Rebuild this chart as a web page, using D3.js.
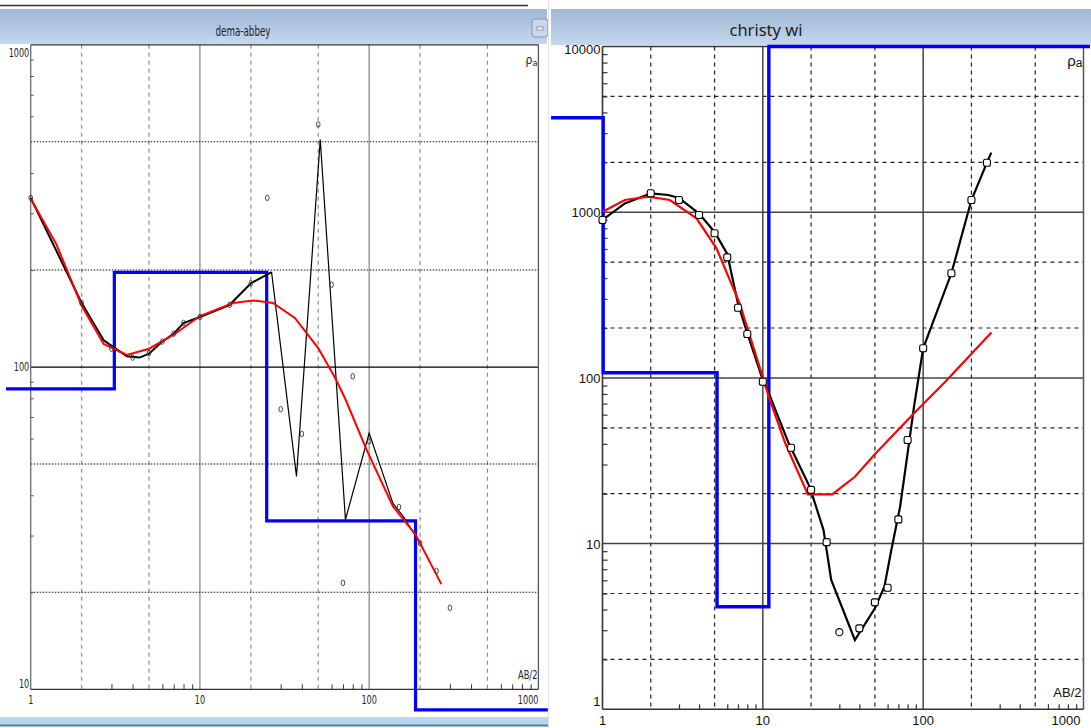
<!DOCTYPE html>
<html><head><meta charset="utf-8">
<script src="https://cdn.jsdelivr.net/npm/d3@7"></script>
<style>body{margin:0;background:#fff;overflow:hidden}svg{display:block}</style>
</head><body>
<svg id="c" width="1091" height="728"></svg>
<script>
// ---------------- DATA ----------------
// Left panel: dema-abbey
const leftTitle = "dema-abbey";
const leftObsAB  = [1,2,3,4,5,6,7,8,10,15,20,25,30,40,50,60,70,80,100,150,200,250,300];
const leftObsRho = [335,158,114,107,110.5,120,127,137,143,156,182,335,74,62,566,180,21.4,93.6,58.8,36.8,28.4,23.3,17.9];
const leftFieldAB  = [1,2,2.7,3.7,4.4,5,6,7,8,10,15,20,26.5];
const leftFieldRho = [335,158,121,108,107,110,120,127,137,143,156,182,197];
const leftZigAB  = [26.5,37.2,51.4,72.4,100,138,159,200];
const leftZigRho = [197,45.8,508,33.6,62.4,37.8,34.4,28.4];
const leftCalcAB  = [1,1.42,2,2.7,3.7,5,7,10,15.7,20.6,27,36.4,50,63,72,96.5,138,188,267];
const leftCalcRho = [333,240,155,118,109,114,126,144,158,161,158,142,114.5,92.5,80,55.4,37,30.2,21.2];
const leftLayerRho    = [85.6,196.8,33.3,8.63];
const leftLayerBounds = [0.715,3.12,24.8,188,1137];   // start, interfaces..., end
const leftXTicks = [1,10,100,1000];
const leftYTicks = [10,100,1000];

// Right panel: christy wi
const rightTitle = "christy wi";
const rightObsAB  = [1,2,3,4,5,6,7,8,10,15,20,25,40,50,60,70,80,100,150,200,250];
const rightObsRho = [897,1300,1185,962,746,534,265,184,94.8,37.9,21.1,10.2,3.08,4.42,5.42,14.0,42.2,151,428,1185,1990];
const rightSkipAB  = [30];
const rightSkipRho = [2.92];
const rightFieldAB  = [1,1.38,2,2.57,3,4,5,6,7,8,10,10.7,14.5,19.6,23.9,26.7,37.5,50,57.3,63.3,71.8,79.4,87.7,100,150,200,250,266];
const rightFieldRho = [900,1130,1300,1270,1220,980,760,560,280,186,97,84.5,40.3,22,12.1,6.03,2.62,4.07,5.5,9.15,16.7,33.4,67,151,428,1185,1990,2290];
const rightCalcAB  = [1,1.38,1.93,2.63,3.86,5.14,7.17,8.08,11,13.8,19.1,27.1,37.5,50.6,87.7,137.4,266.5];
const rightCalcRho = [1007,1185,1241,1185,918,605,282,194.5,75,40.3,19.8,19.8,25.3,35.1,61.1,94.8,188];
const rightLayerRho    = [3718,107.5,4.16,10000];
const rightLayerBounds = [0.478,1.01,5.18,10.9,1097];
const rightXTicks = [1,10,100,1000];
const rightYTicks = [1,10,100,1000,10000];

// ---------------- DRAW ----------------
const svg = d3.select("#c");
const defs = svg.append("defs");
const grad = defs.append("linearGradient").attr("id","tb").attr("x1",0).attr("y1",0).attr("x2",0).attr("y2",1);
grad.append("stop").attr("offset","0%").attr("stop-color","#9fb8d5");
grad.append("stop").attr("offset","100%").attr("stop-color","#c4d7ed");
const NARROW = "'Liberation Sans Narrow','Arial Narrow','DejaVu Sans Condensed',sans-serif";

function narrow(sel, factor){
  sel.each(function(){
    const w = this.getComputedTextLength();
    d3.select(this).attr("textLength", w*factor).attr("lengthAdjust","spacingAndGlyphs");
  });
}
function pairs(a,b){ return a.map((v,i)=>[v,b[i]]); }
function steps(bounds, rho){
  const p=[];
  rho.forEach((r,i)=>{ p.push([bounds[i],r]); p.push([bounds[i+1],r]); });
  return p;
}
function minorTicks(lo, hi, skip){
  const t=[];
  for(let d=lo; d<hi; d*=10) for(let k=2;k<=9;k++){ if(!skip.includes(k)) t.push(k*d); }
  return t;
}

// ---- chrome ----
svg.append("rect").attr("x",0).attr("y",0).attr("width",1091).attr("height",728).attr("fill","#fff");
svg.append("line").attr("x1",0).attr("x2",528).attr("y1",5.5).attr("y2",5.5).attr("stroke","#333").attr("stroke-width",1.5);
svg.append("rect").attr("x",0).attr("y",9).attr("width",547).attr("height",35).attr("fill","url(#tb)");
svg.append("rect").attr("x",551).attr("y",9).attr("width",540).attr("height",36).attr("fill","url(#tb)");
svg.append("rect").attr("x",532).attr("y",19).attr("width",16).attr("height",18).attr("rx",3)
  .attr("fill","#c9d7e7").attr("stroke","#8697ab");
svg.append("rect").attr("x",537).attr("y",27).attr("width",6).attr("height",3).attr("fill","#fff").attr("stroke","#667").attr("stroke-width",0.6);
svg.append("rect").attr("x",0).attr("y",717).attr("width",548).attr("height",8).attr("fill","#bcd4ee");
svg.append("rect").attr("x",0).attr("y",724.5).attr("width",548).attr("height",2).attr("fill","#2f8ea6");
svg.append("line").attr("x1",548.5).attr("x2",548.5).attr("y1",0).attr("y2",728).attr("stroke","#e4e4e4");

svg.append("text").attr("x",243).attr("y",36).attr("text-anchor","middle")
  .attr("font-family",NARROW).attr("font-size",13.5).attr("fill","#222").text(leftTitle)
  .call(s=>{ const w=s.node().getComputedTextLength(); if(w>56) s.attr("textLength",55).attr("lengthAdjust","spacingAndGlyphs"); });
svg.append("text").attr("x",766).attr("y",36).attr("text-anchor","middle")
  .attr("font-family","'Noto Sans','Open Sans',sans-serif").attr("font-size",16.5).attr("fill","#222").text(rightTitle);

// ================= LEFT PANEL =================
{
  const x = d3.scaleLog().domain([1,1000]).range([30.7,538.4]);
  const y = d3.scaleLog().domain([10,1000]).range([689.3,44.8]);
  const g = svg.append("g");
  const [x0,x1] = x.range(), [y1,y0] = y.range();
  g.selectAll(".vd").data([2,5,20,50,200,500]).join("line")
    .attr("x1",d=>x(d)).attr("x2",d=>x(d)).attr("y1",y0).attr("y2",y1)
    .attr("stroke","#8a8a8a").attr("stroke-width",1.2).attr("stroke-dasharray","4,4");
  g.selectAll(".vs").data([10,100]).join("line")
    .attr("x1",d=>x(d)).attr("x2",d=>x(d)).attr("y1",y0).attr("y2",y1)
    .attr("stroke","#8c8c8c").attr("stroke-width",1.3);
  g.selectAll(".hd").data([20,50,200,500]).join("line")
    .attr("x1",x0).attr("x2",x1).attr("y1",d=>y(d)).attr("y2",d=>y(d))
    .attr("stroke","#111").attr("stroke-width",1.1).attr("stroke-dasharray","1.5,1.5");
  g.selectAll(".hs").data([100]).join("line")
    .attr("x1",x0).attr("x2",x1).attr("y1",d=>y(d)).attr("y2",d=>y(d))
    .attr("stroke","#000").attr("stroke-width",1.2);
  g.append("line").attr("x1",x0).attr("x2",x0).attr("y1",y0).attr("y2",y1).attr("stroke","#6d6d6d").attr("stroke-width",1.3);
  g.append("line").attr("x1",x1).attr("x2",x1).attr("y1",y0).attr("y2",y1).attr("stroke","#555").attr("stroke-width",1.3);
  g.append("line").attr("x1",x0).attr("x2",x1).attr("y1",y0).attr("y2",y0).attr("stroke","#333").attr("stroke-width",1.2);
  g.append("line").attr("x1",x0).attr("x2",x1).attr("y1",y1).attr("y2",y1).attr("stroke","#333").attr("stroke-width",1.3);
  const ax = g.append("g").attr("transform",`translate(0,${y1})`)
    .call(d3.axisTop(x).tickValues(minorTicks(1,1000,[2,5])).tickSize(5).tickFormat(""));
  ax.select(".domain").remove(); ax.selectAll("line").attr("stroke","#333");
  const ay = g.append("g").attr("transform",`translate(${x0},0)`)
    .call(d3.axisRight(y).tickValues(minorTicks(10,1000,[5])).tickSize(3).tickFormat(""));
  ay.select(".domain").remove(); ay.selectAll("line").attr("stroke","#555");
  const lab = g.append("g").attr("font-family",NARROW).attr("font-size",11.5).attr("fill","#222");
  lab.selectAll(".yl").data(leftYTicks).join("text")
    .attr("x",x0-1.5).attr("y",d=> d===1000 ? y(d)+12 : d===10 ? y(d)-1 : y(d)+4)
    .attr("text-anchor","end").text(d=>d).call(narrow,0.78);
  lab.selectAll(".xl").data(leftXTicks).join("text")
    .attr("x",d=> d===1000 ? x1 : x(d)).attr("y",704)
    .attr("text-anchor",d=> d===1000 ? "end" : "middle").text(d=>d).call(narrow,0.78);
  lab.append("text").attr("x",x1-1).attr("y",679).attr("text-anchor","end").text("AB/2").call(narrow,0.8);
  const rl = lab.append("text").attr("x",x1-1).attr("y",64).attr("text-anchor","end");
  rl.append("tspan").attr("font-size",12).text("ρ");
  rl.append("tspan").attr("font-size",9).attr("dy",2).text("a");

  const line = d3.line().x(d=>x(d[0])).y(d=>y(d[1]));
  g.append("path").attr("d",line(steps(leftLayerBounds,leftLayerRho)))
    .attr("fill","none").attr("stroke","#0000ff").attr("stroke-width",3.2);
  g.append("path").attr("d",line(pairs(leftFieldAB,leftFieldRho)))
    .attr("fill","none").attr("stroke","#000").attr("stroke-width",2);
  g.append("path").attr("d",line(pairs(leftZigAB,leftZigRho)))
    .attr("fill","none").attr("stroke","#000").attr("stroke-width",1.2);
  g.append("path").attr("d",line(pairs(leftCalcAB,leftCalcRho)))
    .attr("fill","none").attr("stroke","#ff0000").attr("stroke-width",2);
  g.selectAll(".pt").data(pairs(leftObsAB,leftObsRho)).join("ellipse")
    .attr("cx",d=>x(d[0])).attr("cy",d=>y(d[1])).attr("rx",1.8).attr("ry",2.8)
    .attr("fill","none").attr("stroke","#333").attr("stroke-width",0.9);
}

// ================= RIGHT PANEL =================
{
  const x = d3.scaleLog().domain([1,1000]).range([602.5,1083.5]);
  const y = d3.scaleLog().domain([1,10000]).range([709.3,46.5]);
  const g = svg.append("g");
  const [x0,x1] = x.range(), [y1,y0] = y.range();
  g.selectAll(".vd").data([2,5,20,50,200,500]).join("line")
    .attr("x1",d=>x(d)).attr("x2",d=>x(d)).attr("y1",y0).attr("y2",y1)
    .attr("stroke","#222").attr("stroke-width",1.2).attr("stroke-dasharray","4,4");
  g.selectAll(".hd").data([2,5,20,50,200,500,2000,5000]).join("line")
    .attr("x1",x0).attr("x2",x1).attr("y1",d=>y(d)).attr("y2",d=>y(d))
    .attr("stroke","#222").attr("stroke-width",1.2).attr("stroke-dasharray","4,4");
  g.selectAll(".vs").data([10,100]).join("line")
    .attr("x1",d=>x(d)).attr("x2",d=>x(d)).attr("y1",y0).attr("y2",y1)
    .attr("stroke","#444").attr("stroke-width",1.5);
  g.selectAll(".hs").data([10,100,1000]).join("line")
    .attr("x1",x0).attr("x2",x1).attr("y1",d=>y(d)).attr("y2",d=>y(d))
    .attr("stroke","#444").attr("stroke-width",1.5);
  g.append("line").attr("x1",x0).attr("x2",x0).attr("y1",y0).attr("y2",y1).attr("stroke","#333").attr("stroke-width",1.6);
  g.append("line").attr("x1",x1).attr("x2",x1).attr("y1",y0).attr("y2",y1).attr("stroke","#555").attr("stroke-width",1.5);
  g.append("line").attr("x1",x0).attr("x2",x1).attr("y1",y0).attr("y2",y0).attr("stroke","#333").attr("stroke-width",1.3);
  g.append("line").attr("x1",x0).attr("x2",x1).attr("y1",y1).attr("y2",y1).attr("stroke","#333").attr("stroke-width",1.6);
  const ax = g.append("g").attr("transform",`translate(0,${y1})`)
    .call(d3.axisTop(x).tickValues(minorTicks(1,1000,[2,5])).tickSize(5).tickFormat(""));
  ax.select(".domain").remove(); ax.selectAll("line").attr("stroke","#333").attr("stroke-width",1.2);
  const ay = g.append("g").attr("transform",`translate(${x0},0)`)
    .call(d3.axisRight(y).tickValues(minorTicks(1,10000,[])).tickSize(5).tickFormat(""));
  ay.select(".domain").remove(); ay.selectAll("line").attr("stroke","#333").attr("stroke-width",1.2);

  const lab = g.append("g").attr("font-family","'Liberation Sans',Arial,sans-serif").attr("font-size",13).attr("fill","#111");
  lab.selectAll(".yl").data(rightYTicks).join("text")
    .attr("x",x0-2).attr("y",d=> d===1 ? y(d)-3 : y(d)+5 + (d===10000?2:0))
    .attr("text-anchor","end").text(d=>d);
  lab.selectAll(".xl").data(rightXTicks).join("text")
    .attr("x",d=> d===1000 ? x1-3 : x(d)).attr("y",725)
    .attr("text-anchor",d=> d===1000 ? "end" : "middle").text(d=>d);
  lab.append("text").attr("x",x1-2).attr("y",697).attr("text-anchor","end").text("AB/2");
  const rl = lab.append("text").attr("x",x1-1).attr("y",66).attr("text-anchor","end");
  rl.append("tspan").attr("font-size",15).text("ρ");
  rl.append("tspan").attr("font-size",12).attr("dy",1).text("a");

  const line = d3.line().x(d=>x(d[0])).y(d=>y(d[1]));
  g.append("path").attr("d",line(steps(rightLayerBounds,rightLayerRho)))
    .attr("fill","none").attr("stroke","#0000ff").attr("stroke-width",3.4);
  g.append("path").attr("d",line(pairs(rightFieldAB,rightFieldRho)))
    .attr("fill","none").attr("stroke","#000").attr("stroke-width",2.2);
  g.append("path").attr("d",line(pairs(rightCalcAB,rightCalcRho)))
    .attr("fill","none").attr("stroke","#ff0000").attr("stroke-width",2.2);
  g.selectAll(".sq").data(pairs(rightObsAB,rightObsRho)).join("rect")
    .attr("x",d=>x(d[0])-3.5).attr("y",d=>y(d[1])-3.5).attr("width",7).attr("height",7).attr("rx",2)
    .attr("fill","#fff").attr("stroke","#000").attr("stroke-width",1.1);
  g.selectAll(".ci").data(pairs(rightSkipAB,rightSkipRho)).join("circle")
    .attr("cx",d=>x(d[0])).attr("cy",d=>y(d[1])).attr("r",3.6)
    .attr("fill","#fff").attr("stroke","#000").attr("stroke-width",1.1);
}
</script>
</body></html>
